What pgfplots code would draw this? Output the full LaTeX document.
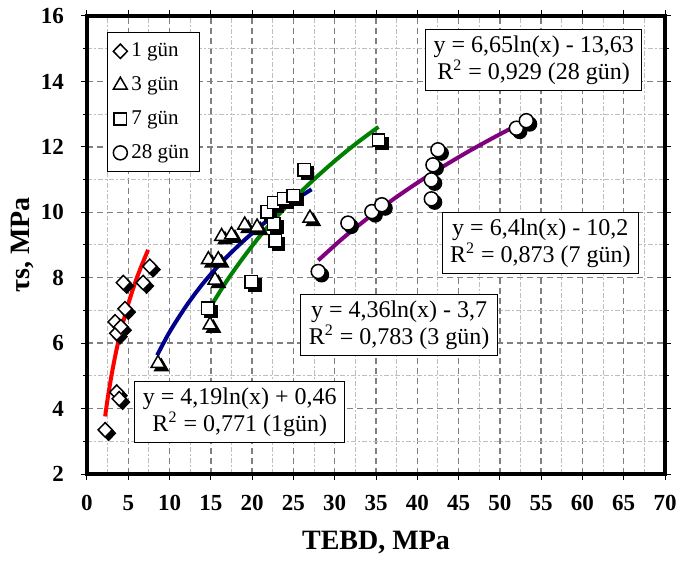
\documentclass[border=0pt]{standalone}
\usepackage{fontspec}
\setmainfont{Liberation Serif}
\usepackage{pgfplots}
\pgfplotsset{compat=1.18}

\definecolor{trRed}{RGB}{255,0,0}
\definecolor{trBlue}{RGB}{0,0,140}
\definecolor{trGreen}{RGB}{0,128,0}
\definecolor{trPurple}{RGB}{128,0,128}
\definecolor{gridMaj}{RGB}{128,128,128}
\definecolor{gridMin}{RGB}{190,190,190}

\pgfplotsset{
  shadowmk/.style={only marks, forget plot, mark options={fill=black, draw=black, line width=0.6pt, xshift=1.7pt, yshift=-1.7pt}},
  whitemk/.style={only marks, mark options={fill=white, draw=black, line width=0.75pt}},
  trend/.style={no marks, smooth, line width=2pt, forget plot},
  widediamond/.style={mark=diamond*, mark size=3.6pt, every mark/.append style={xscale=1.3}},
}
\tikzset{eqbox/.style={draw=black, line width=0.5pt, fill=white, align=center,
  inner xsep=4pt, inner ysep=3pt, font=\fontsize{12}{13.5}\selectfont}}

\begin{document}
\begin{tikzpicture}
\useasboundingbox (-43.5pt,-44pt) rectangle (296.5pt,237pt);
\begin{axis}[
  scale only axis,
  width=289pt, height=229pt,
  xmin=0, xmax=70, ymin=2, ymax=16,
  xtick={0,5,...,70}, ytick={2,4,...,16},
  minor x tick num=1, minor y tick num=1,
  grid=both,
  major grid style={draw=gridMaj, line width=0.7pt, dash pattern=on 3pt off 2pt},
  minor grid style={draw=gridMin, line width=0.5pt, dash pattern=on 2.5pt off 1.2pt on 0.6pt off 1.2pt},
  minor x tick style={draw=none},
  axis line style={line width=1.6pt},
  tick align=outside,
  major tick length=3pt, minor tick length=2pt,
  tick style={black, line width=0.5pt},
  /pgf/number format/assume math mode=true,
  ticklabel style={font=\bfseries\fontsize{11.5}{13}\selectfont},
  xticklabel style={yshift=-4pt},
  yticklabel style={xshift=-5pt},
  xlabel={TEBD, MPa},
  ylabel={τs, MPa},
  every axis x label/.style={at={(axis description cs:0.5,0)}, yshift=-34pt, anchor=center,
    font=\bfseries\fontsize{14}{16}\selectfont},
  every axis y label/.style={at={(axis description cs:0,0.5)}, xshift=-32pt, rotate=90, anchor=center,
    font=\bfseries\fontsize{14}{16}\selectfont},
  legend cell align={left},
  legend image code/.code={\draw[#1] plot coordinates {(3pt,0pt)};},
  legend style={at={(axis cs:2.4,15.5)}, anchor=north west, draw=black, line width=0.5pt,
    fill=white, font=\fontsize{10.5}{12}\selectfont, row sep=4.5pt, inner xsep=3pt, inner ysep=3pt},
]
% 1 gun
\addplot[shadowmk, widediamond] coordinates {(2.2,3.35) (3.6,4.5) (3.9,4.3) (3.4,6.65) (3.6,6.3) (4.1,6.5) (4.6,7.05) (4.4,7.85) (6.8,7.85) (7.6,8.35)};
\addplot[whitemk, widediamond] coordinates {(2.2,3.35) (3.6,4.5) (3.9,4.3) (3.4,6.65) (3.6,6.3) (4.1,6.5) (4.6,7.05) (4.4,7.85) (6.8,7.85) (7.6,8.35)};
\addlegendentry{1 gün}
% 3 gun
\addplot[shadowmk, mark=triangle*, mark size=4pt] coordinates {(8.6,5.38) (14.9,6.56) (15.5,7.93) (14.7,8.55) (15.9,8.55) (16.3,9.26) (17.5,9.31) (19.1,9.61) (20.6,9.55) (27.0,9.82)};
\addplot[whitemk, mark=triangle*, mark size=4pt] coordinates {(8.6,5.38) (14.9,6.56) (15.5,7.93) (14.7,8.55) (15.9,8.55) (16.3,9.26) (17.5,9.31) (19.1,9.61) (20.6,9.55) (27.0,9.82)};
\addlegendentry{3 gün}
% 7 gun
\addplot[shadowmk, mark=square*, mark size=3.1pt] coordinates {(14.6,7.07) (19.9,7.88) (22.8,9.13) (22.6,9.65) (21.8,10.02) (22.6,10.3) (23.8,10.41) (25.0,10.5) (26.3,11.3) (35.3,12.21)};
\addplot[whitemk, mark=square*, mark size=3.1pt] coordinates {(14.6,7.07) (19.9,7.88) (22.8,9.13) (22.6,9.65) (21.8,10.02) (22.6,10.3) (23.8,10.41) (25.0,10.5) (26.3,11.3) (35.3,12.21)};
\addlegendentry{7 gün}
% 28 gun
\addplot[shadowmk, mark=*, mark size=3.5pt] coordinates {(28.0,8.19) (31.6,9.67) (34.5,10.02) (35.7,10.23) (41.7,10.41) (41.7,10.99) (41.9,11.45) (42.5,11.91) (52.0,12.57) (53.2,12.8)};
\addplot[whitemk, mark=*, mark size=3.5pt] coordinates {(28.0,8.19) (31.6,9.67) (34.5,10.02) (35.7,10.23) (41.7,10.41) (41.7,10.99) (41.9,11.45) (42.5,11.91) (52.0,12.57) (53.2,12.8)};
\addlegendentry{28 gün}
% trend lines
\addplot[trend, trRed] coordinates {(2.2,3.76) (2.5,4.30) (3,5.06) (3.5,5.71) (4,6.27) (4.5,6.76) (5,7.20) (5.5,7.60) (6,7.97) (6.5,8.30) (7,8.61) (7.4,8.85)};
\addplot[trend, trBlue] coordinates {(8.5,5.63) (10,6.34) (12,7.13) (14,7.81) (16,8.39) (18,8.90) (20,9.36) (22,9.78) (24,10.16) (26,10.51) (27.2,10.70)};
\addplot[trend, trGreen] coordinates {(14.8,7.05) (17,7.93) (19,8.64) (21,9.29) (23,9.87) (25,10.40) (27,10.89) (29,11.35) (31,11.78) (33,12.18) (35.3,12.61)};
\addplot[trend, trPurple] coordinates {(28,8.53) (31,9.21) (34,9.82) (37,10.38) (40,10.90) (43,11.38) (46,11.83) (49,12.25) (52,12.65) (53.2,12.80)};
% equation boxes
\node[eqbox] at (axis cs:54.1,14.66) {y = 6,65ln(x) - 13,63\\R\textsuperscript{2} = 0,929 (28 gün)};
\node[eqbox] at (axis cs:54.9,9.06) {y = 6,4ln(x) - 10,2\\R\textsuperscript{2} = 0,873 (7 gün)};
\node[eqbox] at (axis cs:37.8,6.55) {y = 4,36ln(x) - 3,7\\R\textsuperscript{2} = 0,783 (3 gün)};
\node[eqbox] at (axis cs:18.5,3.9) {y = 4,19ln(x) + 0,46\\R\textsuperscript{2} = 0,771 (1gün)};
\end{axis}
\end{tikzpicture}
\end{document}
